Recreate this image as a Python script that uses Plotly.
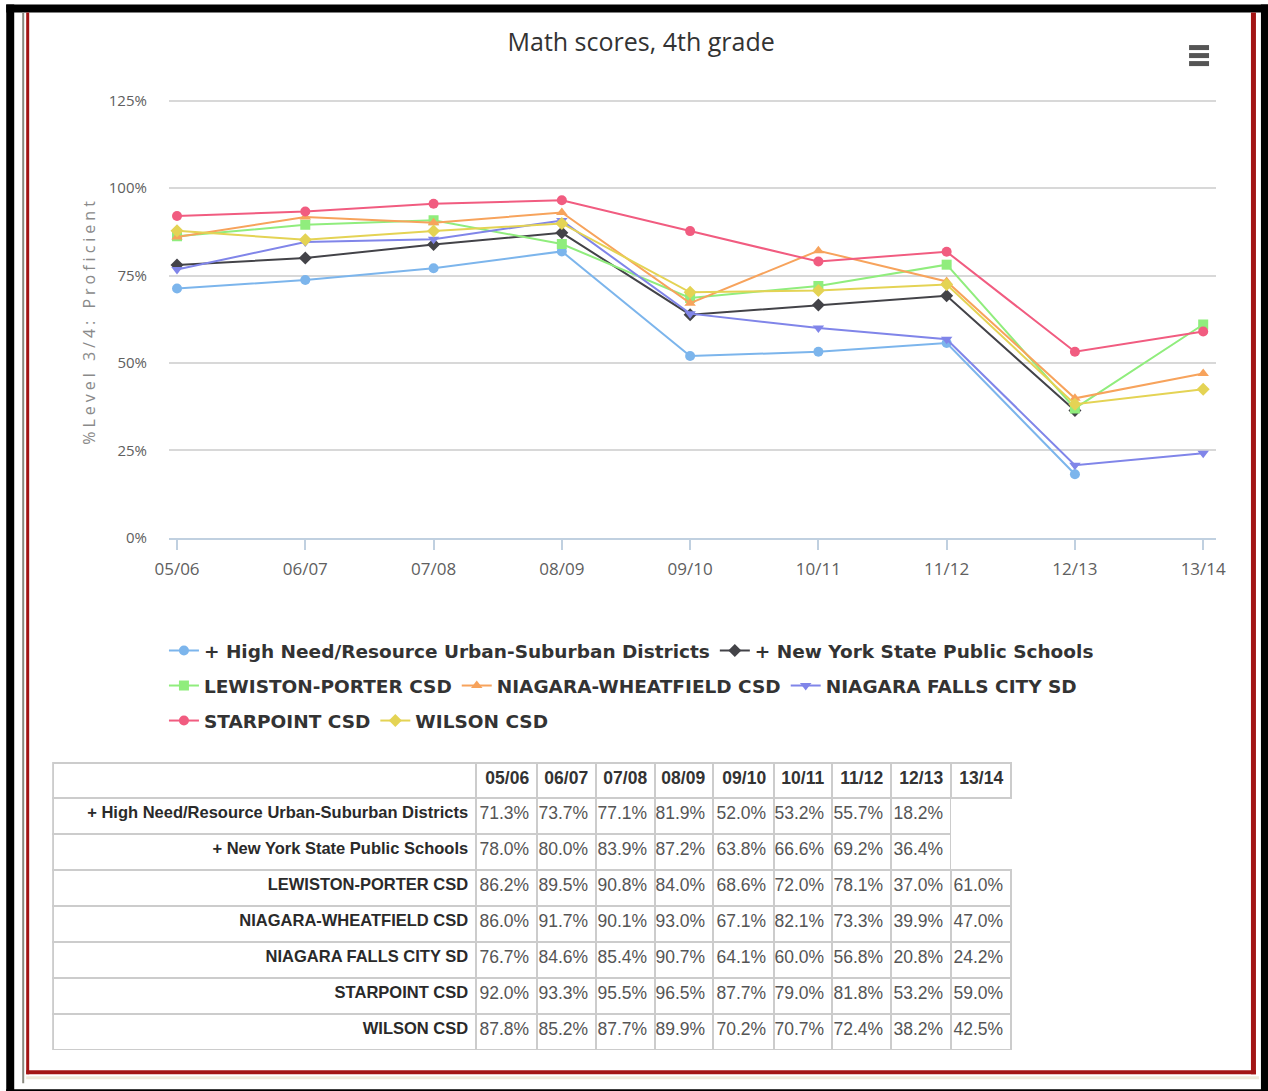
import plotly.graph_objects as go

# Calibration of the viewer: the screen shows the page shifted by (OX, OY)
# CSS px and scaled by S. Positions below are given in screen pixels R.
S = 0.983
OX, OY = 13.0, 8.6
W, H = 1277, 1101

def px(r):
    return (r / S - OX) / W

def py(r):
    return 1 - (r / S - OY) / H

years = ["05/06", "06/07", "07/08", "08/09", "09/10", "10/11", "11/12", "12/13", "13/14"]

series_names = [
    "+ High Need/Resource Urban-Suburban Districts",
    "+ New York State Public Schools",
    "LEWISTON-PORTER CSD",
    "NIAGARA-WHEATFIELD CSD",
    "NIAGARA FALLS CITY SD",
    "STARPOINT CSD",
    "WILSON CSD",
]
high_need = [71.3, 73.7, 77.1, 81.9, 52.0, 53.2, 55.7, 18.2, None]
nys_public = [78.0, 80.0, 83.9, 87.2, 63.8, 66.6, 69.2, 36.4, None]
lewiston_porter = [86.2, 89.5, 90.8, 84.0, 68.6, 72.0, 78.1, 37.0, 61.0]
niagara_wheatfield = [86.0, 91.7, 90.1, 93.0, 67.1, 82.1, 73.3, 39.9, 47.0]
niagara_falls = [76.7, 84.6, 85.4, 90.7, 64.1, 60.0, 56.8, 20.8, 24.2]
starpoint = [92.0, 93.3, 95.5, 96.5, 87.7, 79.0, 81.8, 53.2, 59.0]
wilson = [87.8, 85.2, 87.7, 89.9, 70.2, 70.7, 72.4, 38.2, 42.5]

series_values = [high_need, nys_public, lewiston_porter, niagara_wheatfield,
                 niagara_falls, starpoint, wilson]
colors = ["#7CB5EC", "#434348", "#90ED7D", "#F7A35C", "#8085E9", "#F15C80", "#E4D354"]
symbols = ["circle", "diamond", "square", "triangle-up", "triangle-down", "circle", "diamond"]
legend_rows = ["legend", "legend", "legend2", "legend2", "legend2", "legend3", "legend3"]

y_ticks = [0, 25, 50, 75, 100, 125]
y_tick_labels = ["0%", "25%", "50%", "75%", "100%", "125%"]

fig = go.Figure()

for name, vals, col, sym, lg in zip(series_names, series_values, colors, symbols, legend_rows):
    fig.add_trace(go.Scatter(
        x=years, y=vals, name=name, mode="lines+markers",
        line=dict(color=col, width=2),
        marker=dict(color=col, symbol=sym, size=10),
        connectgaps=False, legend=lg,
    ))

# data table
def fmt(v):
    return "" if v is None else f"{v:.1f}%"

TFONT = "Liberation Sans, Arial, sans-serif"
table_cols = [series_names] + [[fmt(s[i]) for s in series_values] for i in range(len(years))]
grid = "#CCCCCC"
line_colors = [[grid] * 7 for _ in range(len(years))]
line_colors.append([("rgba(0,0,0,0)" if s[-1] is None else grid) for s in series_values])

fig.add_trace(go.Table(
    domain=dict(x=[px(52), px(1012)], y=[py(1049), py(762)]),
    columnwidth=[423, 61, 59, 59, 58, 61, 58, 59, 60, 60],
    header=dict(
        values=[""] + years,
        align="right",
        font=dict(family=TFONT, size=17.5, color="#333333", weight="bold"),
        line=dict(color=grid, width=2),
        fill=dict(color="white"),
        height=35,
    ),
    cells=dict(
        values=table_cols,
        align="right",
        font=dict(family=TFONT, size=[16.5] + [17.5] * len(years),
                  color=[["#2A2A2A"] * 7] + [["#555555"] * 7 for _ in years],
                  weight=["bold"] + ["normal"] * len(years)),
        line=dict(color=line_colors, width=2),
        fill=dict(color="white"),
        height=36,
    ),
))

legend_common = dict(
    orientation="h", xanchor="left", yanchor="middle",
    font=dict(family="DejaVu Sans", size=18.5, color="#333333", weight="bold"),
    bgcolor="rgba(0,0,0,0)", itemclick=False, itemdoubleclick=False,
    tracegroupgap=0,
)

shapes = []
def rect(x0, y0, x1, y1, color):
    shapes.append(dict(type="rect", xref="paper", yref="paper",
                       x0=px(x0), x1=px(x1), y0=py(y1), y1=py(y0),
                       fillcolor=color, line=dict(width=0), layer="above"))

# outer black frame
rect(5, 4, 13, 1095, "#000000")
rect(5, 4, 1270, 12, "#000000")
rect(1262, 4, 1270, 1095, "#000000")
rect(5, 1088, 1270, 1095, "#000000")
# thin gray line and red frame
rect(21, 12, 23, 1082, "#8A8A80")
rect(25, 12, 28, 1073, "#A31515")
rect(1252, 12, 1257, 1073, "#A31515")
rect(25, 1069, 1257, 1073, "#A31515")
rect(25, 1075, 1260, 1078, "#EEE9DA")
# menu icon
for yc in (47, 55, 63):
    rect(1190, yc - 2.5, 1210, yc + 2.5, "#555555")

fig.update_layout(
    width=W, height=H,
    margin=dict(l=0, r=0, t=0, b=0),
    paper_bgcolor="white", plot_bgcolor="white",
    title=dict(text="Math scores, 4th grade", x=px(643), y=py(50),
               xanchor="center", yanchor="middle",
               font=dict(family="Open Sans", size=25, color="#333333")),
    xaxis=dict(
        domain=[px(168), px(1217)], range=[-0.063, 8.1], type="category",
        showgrid=False, zeroline=False, showline=True, linecolor="#C0D0E0", linewidth=2,
        ticks="outside", ticklen=10, tickcolor="#C0D0E0", tickwidth=2,
        ticklabelstandoff=5,
        tickfont=dict(family="Open Sans", size=17, color="#606060"),
        fixedrange=True,
    ),
    yaxis=dict(
        domain=[py(537), py(98.6)], range=[0, 125.4],
        tickvals=y_ticks, ticktext=y_tick_labels,
        showgrid=True, gridcolor="#D8D8D8", gridwidth=2, zeroline=False,
        showline=False, ticks="", ticklabelstandoff=21,
        tickfont=dict(family="Open Sans", size=15, color="#606060"),
        fixedrange=True,
    ),
    annotations=[dict(
        text="%Level 3/4: Proficient", xref="paper", yref="paper",
        x=px(88), y=py(320), xanchor="center", yanchor="middle",
        textangle=-90, showarrow=False,
        font=dict(family="Open Sans", size=16, color="#8A8A8A"),
    )],
    legend=dict(x=px(163), y=py(650), **legend_common),
    legend2=dict(x=px(163), y=py(685), **legend_common),
    legend3=dict(x=px(163), y=py(720), **legend_common),
    shapes=shapes,
    showlegend=True,
)

post = """
document.documentElement.style.margin='0';
document.body.style.margin='0';
document.body.style.overflow='hidden';
document.querySelectorAll('text').forEach(function(t){
  if(t.textContent.indexOf('%Level')===0){ t.style.letterSpacing='4px'; }
});
"""

fig.write_html("out.html", post_script=post, config={"displayModeBar": False})
